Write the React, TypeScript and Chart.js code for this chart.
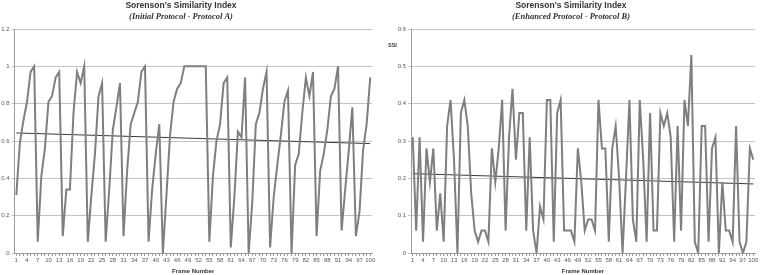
import { useEffect, useRef } from 'react';
import { Chart, registerables } from 'chart.js';

Chart.register(...registerables);

// Frame numbers 1..100 along the x axis
const frames: string[] = Array.from({ length: 100 }, (_, i) => String(i + 1));

// Sorenson's similarity index per frame, initial protocol (A)
const ssiProtocolA: number[] = [
  0.31, 0.59, 0.71, 0.81, 0.97, 1.0, 0.06, 0.41, 0.56, 0.81,
  0.84, 0.94, 0.97, 0.09, 0.34, 0.34, 0.75, 0.97, 0.91, 1.0,
  0.06, 0.31, 0.53, 0.84, 0.91, 0.06, 0.34, 0.66, 0.78, 0.91,
  0.09, 0.44, 0.69, 0.75, 0.81, 0.97, 1.0, 0.06, 0.34, 0.53,
  0.69, 0.0, 0.31, 0.63, 0.81, 0.88, 0.91, 1.0, 1.0, 1.0,
  1.0, 1.0, 1.0, 1.0, 0.06, 0.41, 0.6, 0.69, 0.91, 0.94,
  0.03, 0.3, 0.65, 0.62, 0.94, 0.0, 0.27, 0.69, 0.75, 0.88,
  0.97, 0.03, 0.3, 0.47, 0.63, 0.81, 0.87, 0.0, 0.47, 0.53,
  0.75, 0.94, 0.84, 0.97, 0.09, 0.44, 0.53, 0.66, 0.84, 0.88,
  1.0, 0.12, 0.34, 0.55, 0.78, 0.09, 0.22, 0.55, 0.69, 0.94,
];

// Sorenson's similarity index per frame, enhanced protocol (B)
const ssiProtocolB: number[] = [
  0.31, 0.06, 0.31, 0.03, 0.28, 0.19, 0.28, 0.06, 0.16, 0.03,
  0.34, 0.41, 0.25, 0.0, 0.375, 0.41, 0.34, 0.16, 0.06, 0.03,
  0.06, 0.06, 0.03, 0.28, 0.19, 0.28, 0.41, 0.06, 0.31, 0.44,
  0.25, 0.375, 0.375, 0.06, 0.31, 0.06, 0.0, 0.125, 0.09, 0.41,
  0.41, 0.03, 0.375, 0.41, 0.06, 0.06, 0.06, 0.03, 0.28, 0.19,
  0.06, 0.09, 0.09, 0.06, 0.41, 0.28, 0.28, 0.03, 0.28, 0.34,
  0.2, 0.0, 0.2, 0.41, 0.09, 0.03, 0.41, 0.25, 0.03, 0.375,
  0.06, 0.06, 0.375, 0.34, 0.375, 0.31, 0.03, 0.34, 0.06, 0.41,
  0.34, 0.53, 0.03, 0.0, 0.34, 0.34, 0.03, 0.28, 0.31, 0.0,
  0.19, 0.06, 0.06, 0.03, 0.34, 0.03, 0.0, 0.03, 0.28, 0.25,
];

// Linear trend line end points (first frame, last frame)
const trendA: number[] = [0.643, 0.586];
const trendB: number[] = [0.2125, 0.185];

// Y axis ranges
const yMaxA = 1.2;
const yStepA = 0.2;
const yMaxB = 0.6;
const yStepB = 0.1;

const TITLE = "Sorenson's Similarity Index";
const SUBTITLE_A = '(Initial Protocol - Protocol A)';
const SUBTITLE_B = '(Enhanced Protocol - Protocol B)';

const SANS = '"Liberation Sans", Arial, sans-serif';

type PanelProps = {
  left: number;
  width: number;
  values: number[];
  trend: number[];
  yMax: number;
  yStep: number;
  yAxisWidth: number;
  padRight: number;
  subtitle: string;
  titleX: number;
  axisLabel?: string;
};

function Panel(props: PanelProps) {
  const ref = useRef<HTMLCanvasElement | null>(null);

  useEffect(() => {
    const canvas = ref.current;
    if (!canvas) return;

    // Two-line heading and the short value-axis caption
    const headings = {
      id: 'headings',
      afterDraw(chart: Chart) {
        const ctx = chart.ctx;
        ctx.save();
        ctx.fillStyle = '#333333';
        ctx.textAlign = 'center';
        ctx.textBaseline = 'middle';
        ctx.font = `bold 8.5px ${SANS}`;
        ctx.fillText(TITLE, props.titleX, 6);
        ctx.font = 'italic bold 8.5px "Liberation Serif", "DejaVu Serif", serif';
        ctx.fillText(props.subtitle, props.titleX, 17);
        if (props.axisLabel) {
          ctx.textAlign = 'left';
          ctx.font = `bold 5.5px ${SANS}`;
          ctx.fillText(props.axisLabel, 8, 45);
        }
        ctx.restore();
      },
    };

    const chart = new Chart(canvas, {
      type: 'line',
      data: {
        labels: frames,
        datasets: [
          {
            data: props.values,
            borderColor: '#7f7f7f',
            borderWidth: 2,
            pointRadius: 0,
            tension: 0,
          },
          {
            data: [
              { x: frames[0], y: props.trend[0] },
              { x: frames[frames.length - 1], y: props.trend[1] },
            ] as any,
            borderColor: '#3a3a3a',
            borderWidth: 1,
            pointRadius: 0,
            tension: 0,
          },
        ],
      },
      options: {
        responsive: false,
        animation: false,
        events: [],
        layout: { padding: { top: 29, left: 0, right: props.padRight, bottom: 0 } },
        plugins: {
          legend: { display: false },
          tooltip: { enabled: false },
          title: { display: false },
        },
        scales: {
          x: {
            type: 'category',
            offset: true,
            grid: {
              offset: false,
              drawOnChartArea: false,
              drawTicks: true,
              tickLength: 3,
              color: '#9a9a9a',
            },
            border: { color: '#9a9a9a', width: 1 },
            ticks: {
              autoSkip: false,
              maxRotation: 0,
              minRotation: 0,
              padding: 1,
              color: '#595959',
              font: { size: 6, family: SANS },
              callback: (_v: any, i: number) => (i % 3 === 0 ? frames[i] : ''),
            },
            title: {
              display: true,
              text: 'Frame Number',
              color: '#333333',
              padding: { top: 2, bottom: 0 },
              font: { size: 6, weight: 'bold', family: SANS },
            },
            afterFit: (scale: any) => {
              scale.height = 22;
            },
          },
          y: {
            min: 0,
            max: props.yMax,
            ticks: {
              stepSize: props.yStep,
              padding: 2,
              color: '#595959',
              font: { size: 6, family: SANS },
              callback: (v: any) => String(Number(Number(v).toFixed(2))),
            },
            grid: {
              color: '#c4c4c4',
              lineWidth: 1,
              tickLength: 3,
            },
            border: { color: '#9a9a9a', width: 1 },
            afterFit: (scale: any) => {
              scale.width = props.yAxisWidth;
            },
          },
        },
      },
      plugins: [headings],
    });

    return () => chart.destroy();
  }, []);

  return (
    <div style={{ position: 'absolute', left: props.left, top: 0, width: props.width, height: 275 }}>
      <canvas ref={ref} width={props.width} height={275} style={{ display: 'block' }} />
    </div>
  );
}

export default function App() {
  return (
    <div
      style={{
        position: 'fixed',
        left: 0,
        top: 0,
        width: 761,
        height: 275,
        background: '#ffffff',
        overflow: 'hidden',
      }}
    >
      <Panel
        left={0}
        width={380}
        values={ssiProtocolA}
        trend={trendA}
        yMax={yMaxA}
        yStep={yStepA}
        yAxisWidth={14.5}
        padRight={8}
        subtitle={SUBTITLE_A}
        titleX={181}
      />
      <Panel
        left={380}
        width={381}
        values={ssiProtocolB}
        trend={trendB}
        yMax={yMaxB}
        yStep={yStepB}
        yAxisWidth={31}
        padRight={6}
        subtitle={SUBTITLE_B}
        titleX={191}
        axisLabel="SSI"
      />
    </div>
  );
}
